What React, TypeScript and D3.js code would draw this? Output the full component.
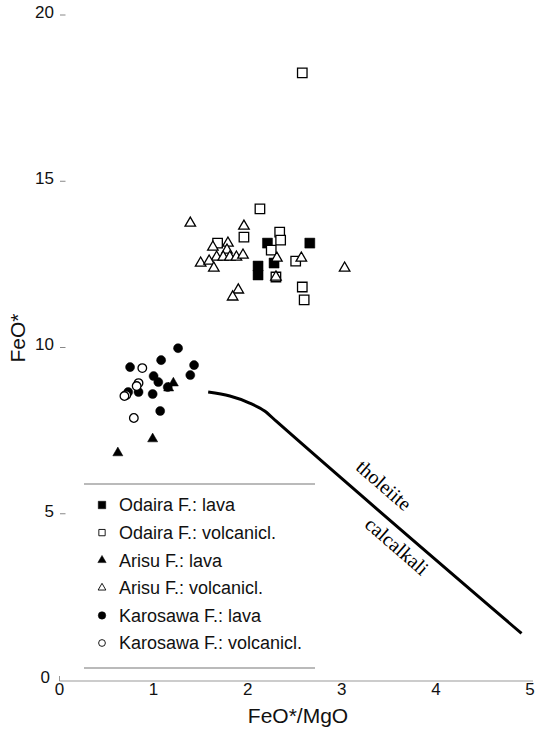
import { useEffect, useRef } from "react";
import * as d3 from "d3";

const xTicks = [0, 1, 2, 3, 4, 5];
const yTicks = [0, 5, 10, 15, 20];

// [FeO*/MgO, FeO*]
const odairaLava = [
  [2.66, 13.14], [2.21, 13.14], [2.11, 12.45], [2.11, 12.18], [2.28, 12.54],
];
const odairaVolc = [
  [2.13, 14.17], [1.96, 13.32], [2.34, 13.47], [2.35, 13.23], [2.25, 12.93],
  [1.68, 13.14], [2.51, 12.6], [2.3, 12.12], [2.58, 11.82], [2.6, 11.43],
  [2.58, 18.26],
];
const arisuLava = [
  [1.21, 8.93], [1.16, 8.78], [0.99, 7.25], [0.62, 6.83],
];
const arisuVolc = [
  [1.39, 13.74], [1.96, 13.65], [1.79, 13.14], [1.63, 13.02], [1.78, 12.93],
  [1.67, 12.72], [1.74, 12.72], [1.81, 12.72], [1.88, 12.72], [1.95, 12.78],
  [1.5, 12.54], [1.59, 12.6], [1.64, 12.39], [2.31, 12.69], [2.57, 12.69],
  [3.03, 12.39], [2.3, 12.12], [1.9, 11.73], [1.84, 11.52],
];
const karosawaLava = [
  [1.26, 9.98], [1.08, 9.62], [0.75, 9.41], [1.43, 9.47], [1.39, 9.17],
  [1.0, 9.14], [1.05, 8.96], [1.15, 8.81], [0.84, 8.66], [0.73, 8.66],
  [0.99, 8.6], [1.07, 8.09],
];
const karosawaVolc = [
  [0.88, 9.38], [0.84, 8.93], [0.82, 8.84], [0.71, 8.57], [0.69, 8.54], [0.79, 7.88],
];

// tholeiite / calcalkali boundary
const boundary = [
  [1.58, 8.66], [1.81, 8.54], [2.02, 8.33], [2.18, 8.09], [2.3, 7.79], [4.91, 1.4],
];

const series = [
  { name: "Odaira F.: lava", data: odairaLava, shape: d3.symbolSquare, filled: true, size: 100, legendSize: 56 },
  { name: "Odaira F.: volcanicl.", data: odairaVolc, shape: d3.symbolSquare, filled: false, size: 90, legendSize: 40 },
  { name: "Arisu F.: lava", data: arisuLava, shape: d3.symbolTriangle, filled: true, size: 44, legendSize: 30 },
  { name: "Arisu F.: volcanicl.", data: arisuVolc, shape: d3.symbolTriangle, filled: false, size: 48, legendSize: 26 },
  { name: "Karosawa F.: lava", data: karosawaLava, shape: d3.symbolCircle, filled: true, size: 64, legendSize: 44 },
  { name: "Karosawa F.: volcanicl.", data: karosawaVolc, shape: d3.symbolCircle, filled: false, size: 58, legendSize: 36 },
];

const sans = "'Liberation Sans', Arial, sans-serif";
const serif = "'Liberation Serif', 'Times New Roman', serif";

export default function App() {
  const ref = useRef<SVGSVGElement | null>(null);

  useEffect(() => {
    const width = 536;
    const height = 733;
    const svg = d3.select(ref.current);
    svg.selectAll("*").remove();
    svg.attr("viewBox", `0 0 ${width} ${height}`);

    const x = d3.scaleLinear().domain([0, 5]).range([59.5, 530]);
    const y = d3.scaleLinear().domain([0, 20]).range([680, 15]);

    svg.append("rect").attr("width", width).attr("height", height).attr("fill", "#fff");

    // x axis
    svg
      .append("line")
      .attr("x1", x(0))
      .attr("x2", x(5) + 3)
      .attr("y1", 681)
      .attr("y2", 681)
      .attr("stroke", "#999")
      .attr("stroke-width", 1);
    svg
      .append("line")
      .attr("x1", x(0))
      .attr("x2", x(0))
      .attr("y1", 676)
      .attr("y2", 681)
      .attr("stroke", "#999");

    svg
      .selectAll("text.xtick")
      .data(xTicks)
      .join("text")
      .attr("class", "xtick")
      .attr("x", (d) => x(d))
      .attr("y", 695)
      .attr("text-anchor", "middle")
      .attr("font-family", sans)
      .attr("font-size", 17)
      .attr("fill", "#111")
      .text((d) => d);

    // y ticks: short dashes, no axis line
    svg
      .selectAll("line.ytick")
      .data(yTicks.filter((d) => d > 0))
      .join("line")
      .attr("class", "ytick")
      .attr("x1", x(0) + 0.5)
      .attr("x2", x(0) + 6)
      .attr("y1", (d) => y(d))
      .attr("y2", (d) => y(d))
      .attr("stroke", "#888")
      .attr("stroke-width", 1);

    svg
      .selectAll("text.ytick-label")
      .data(yTicks)
      .join("text")
      .attr("class", "ytick-label")
      .attr("x", (d) => (d === 0 ? 50 : 54))
      .attr("y", (d) => (d === 0 ? 677 : y(d) - 3))
      .attr("dy", "0.35em")
      .attr("text-anchor", "end")
      .attr("font-family", sans)
      .attr("font-size", 17)
      .attr("fill", "#111")
      .text((d) => d);

    svg
      .append("text")
      .attr("x", 298)
      .attr("y", 723)
      .attr("text-anchor", "middle")
      .attr("font-family", sans)
      .attr("font-size", 21)
      .attr("fill", "#111")
      .text("FeO*/MgO");

    svg
      .append("text")
      .attr("transform", "translate(25,338) rotate(-90)")
      .attr("text-anchor", "middle")
      .attr("font-family", sans)
      .attr("font-size", 21)
      .attr("fill", "#111")
      .text("FeO*");

    // boundary line
    const line = d3
      .line<number[]>()
      .x((d) => x(d[0]))
      .y((d) => y(d[1]))
      .curve(d3.curveMonotoneX);
    svg
      .append("path")
      .attr("d", line(boundary))
      .attr("fill", "none")
      .attr("stroke", "#000")
      .attr("stroke-width", 3);

    svg
      .append("text")
      .attr("transform", "translate(384,485) rotate(41)")
      .attr("text-anchor", "middle")
      .attr("dy", "0.35em")
      .attr("font-family", serif)
      .attr("font-size", 20)
      .attr("fill", "#000")
      .text("tholeiite");
    svg
      .append("text")
      .attr("transform", "translate(397,546) rotate(41)")
      .attr("text-anchor", "middle")
      .attr("dy", "0.35em")
      .attr("font-family", serif)
      .attr("font-size", 20)
      .attr("fill", "#000")
      .text("calcalkali");

    // points: filled first, open ones on top
    const order = [0, 2, 4, 1, 3, 5];
    order.forEach((i) => {
      const s = series[i];
      const sym = d3.symbol().type(s.shape).size(s.size);
      svg
        .append("g")
        .selectAll("path")
        .data(s.data)
        .join("path")
        .attr("transform", (d) => `translate(${x(d[0])},${y(d[1])})`)
        .attr("d", sym() as string)
        .attr("fill", s.filled ? "#000" : "#fff")
        .attr("stroke", "#000")
        .attr("stroke-width", s.filled ? 0.5 : 1.3);
    });

    // legend
    const legend = svg.append("g");
    [484, 668].forEach((ly) => {
      legend
        .append("line")
        .attr("x1", 84)
        .attr("x2", 315)
        .attr("y1", ly)
        .attr("y2", ly)
        .attr("stroke", "#777")
        .attr("stroke-width", 1.2);
    });
    const rowY = d3.scaleLinear().domain([0, 5]).range([505, 643]);
    series.forEach((s, i) => {
      const sym = d3.symbol().type(s.shape).size(s.legendSize);
      legend
        .append("path")
        .attr("transform", `translate(102,${rowY(i)})`)
        .attr("d", sym() as string)
        .attr("fill", s.filled ? "#000" : "#fff")
        .attr("stroke", "#000")
        .attr("stroke-width", s.filled ? 0.5 : 0.9);
      legend
        .append("text")
        .attr("x", 119)
        .attr("y", rowY(i))
        .attr("dy", "0.35em")
        .attr("font-family", sans)
        .attr("font-size", 18)
        .attr("fill", "#111")
        .text(s.name);
    });
  }, []);

  return (
    <svg
      ref={ref}
      width={536}
      height={733}
      style={{ position: "absolute", left: 0, top: 0, display: "block" }}
    />
  );
}
